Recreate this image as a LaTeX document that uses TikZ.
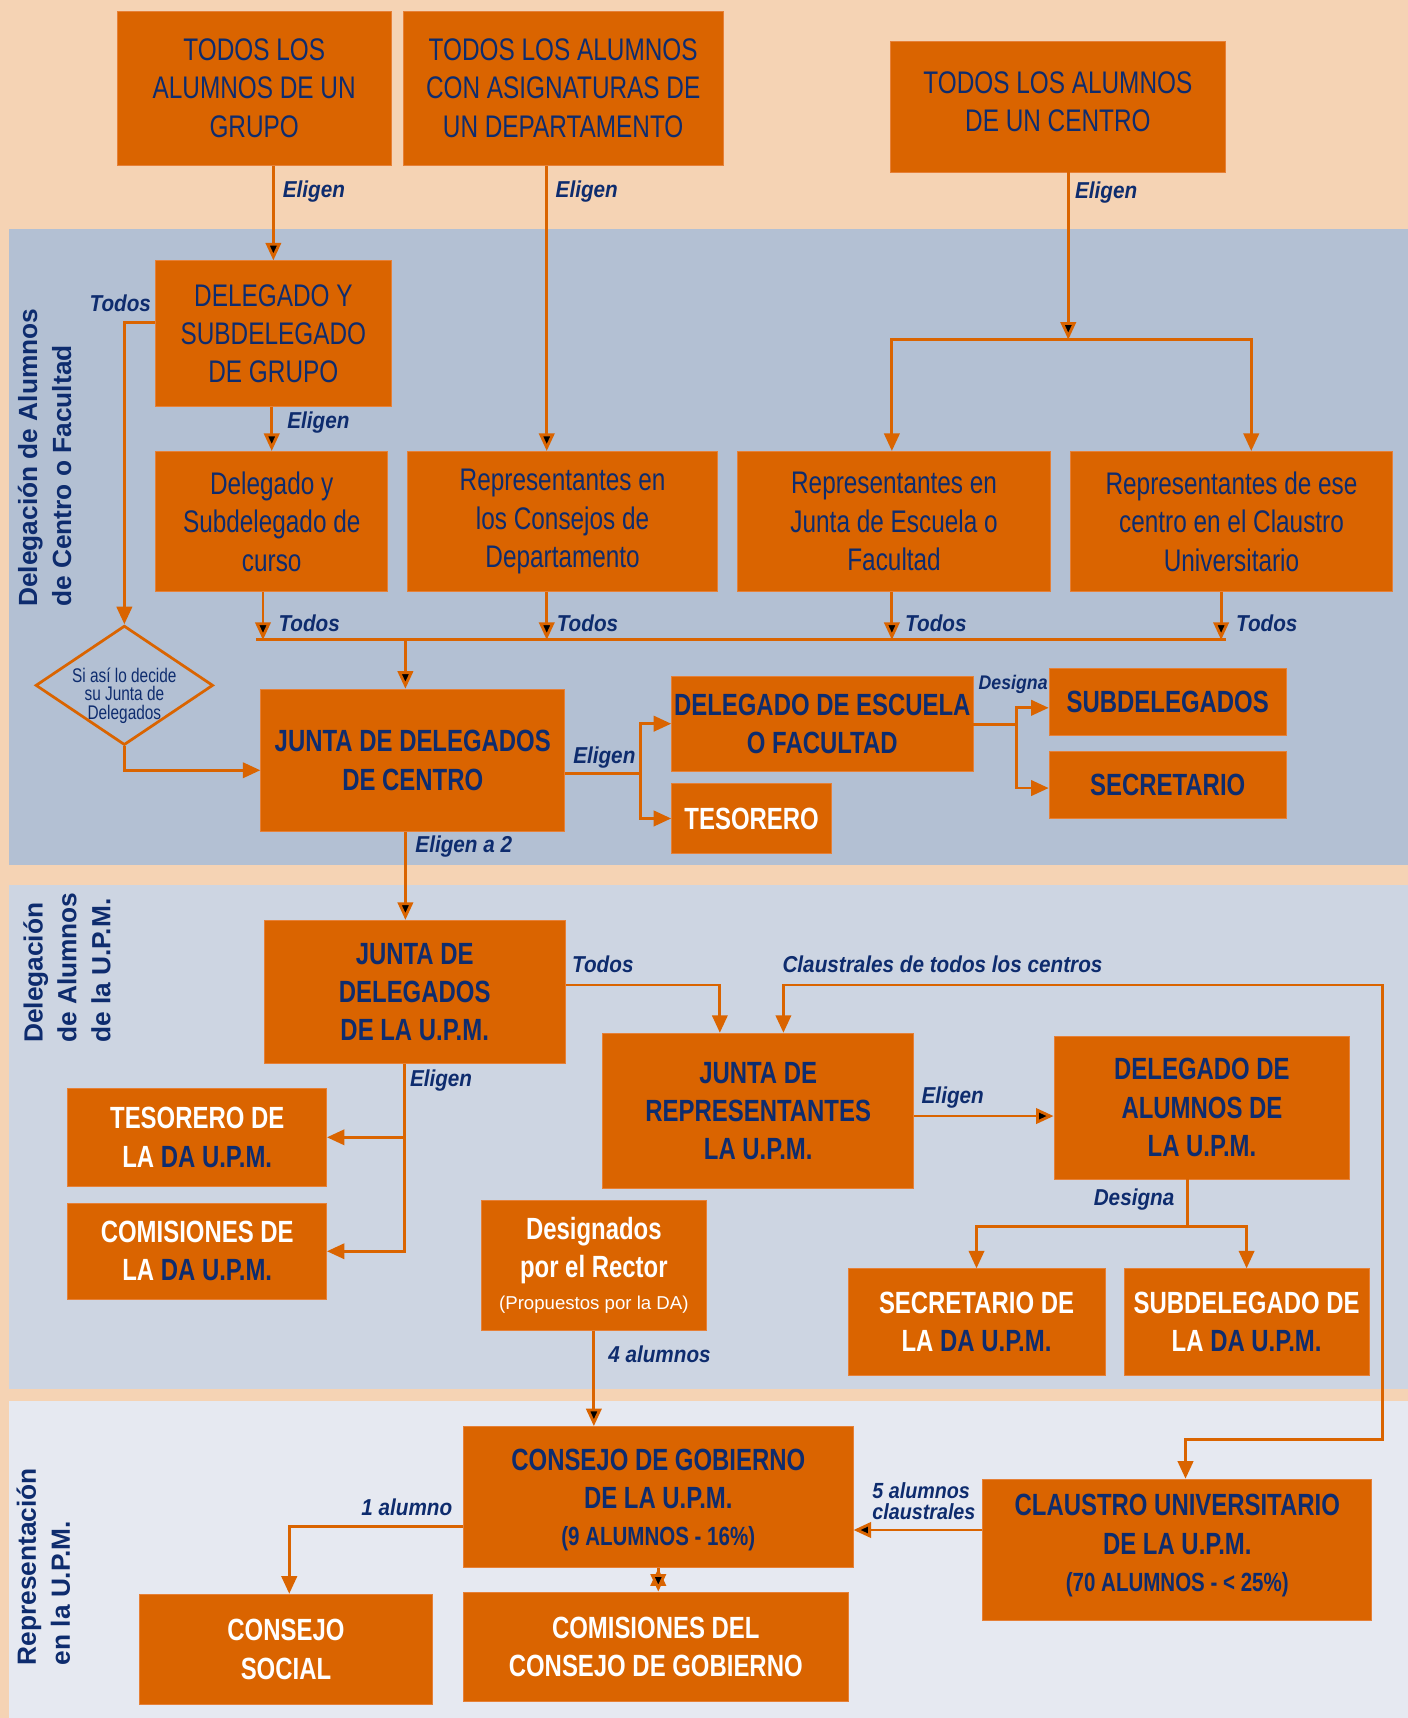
\documentclass[tikz,border=0pt]{standalone}
\usepackage{fontspec}
\setmainfont{Liberation Sans}
\newfontfamily\boxfont{Liberation Sans}[FakeStretch=0.78]
\newfontfamily\labfont{Liberation Sans}[FakeStretch=0.9]
\usepackage{tikz}
\usetikzlibrary{arrows.meta,shapes.geometric}

\definecolor{fondo}{RGB}{245,211,180}
\definecolor{banda1}{RGB}{179,192,211}
\definecolor{banda2}{RGB}{205,213,226}
\definecolor{banda3}{RGB}{230,233,241}
\definecolor{naranja}{RGB}{218,100,0}
\definecolor{naranjaclaro}{RGB}{230,128,55}
\definecolor{azul}{RGB}{14,44,110}

\tikzset{
  tam/.style 2 args={minimum width=#1pt, minimum height=#2pt},
  caja/.style={rectangle, fill=naranja, draw=naranjaclaro, line width=0.8pt, align=center,
    text=azul, inner sep=0pt, font=\boxfont\fontsize{28.5}{35}\selectfont},
  cajab/.style={caja, font=\boxfont\bfseries\fontsize{28}{35}\selectfont},
  blanca/.style={cajab, text=white},
  rombo/.style={diamond, draw=naranja, line width=2.5pt, inner sep=0pt,
    minimum width=162pt, minimum height=109pt},
  rombotxt/.style={align=center, text=azul, inner sep=0pt,
    font=\boxfont\fontsize{18}{16.7}\selectfont},
  lab/.style={text=azul, inner sep=0pt, font=\labfont\bfseries\itshape\fontsize{21}{21}\selectfont},
  linea/.style={draw=naranja, line width=2.6pt},
  flecha/.style={linea, ->},
  seccion/.style={text=azul, align=left, rotate=90, inner sep=0pt, anchor=north west,
    font=\bfseries\fontsize{24}{31}\selectfont}
}

\begin{document}
\begin{tikzpicture}[x=1pt, y=-1pt, >={Triangle[length=16pt,width=14pt]}]
 \useasboundingbox (0,0) rectangle (1285,1568);
 \fill[fondo] (0,0) rectangle (1285,1568);
 \fill[banda1] (8,209) rectangle (1285,789.5);
 \fill[banda2] (8,808) rectangle (1285,1268);
 \fill[banda3] (8,1279) rectangle (1285,1568);

 \node[seccion] (sec1) at (16,554) {Delegación de Alumnos\\de Centro o Facultad};
 \node[seccion] (sec2) at (21,952) {Delegación\\de Alumnos\\de la U.P.M.};
 \node[seccion] (sec3) at (15,1520) {Representación\\en la U.P.M.};

 % delegacion de centro
 \node[caja, tam={250}{141}] (todgr) at (232,80.5) {TODOS LOS\\ALUMNOS DE UN\\GRUPO};
 \node[caja, tam={292}{141}] (toddep) at (514,80.5) {TODOS LOS ALUMNOS\\CON ASIGNATURAS DE\\UN DEPARTAMENTO};
 \node[caja, tam={305}{119}, text depth=10pt] (todcen) at (965.5,97.5) {TODOS LOS ALUMNOS\\DE UN CENTRO};
 \node[caja, tam={215}{133}] (delgr) at (249.5,304.5) {DELEGADO Y\\SUBDELEGADO\\DE GRUPO};
 \node[caja, tam={212}{128}] (delcur) at (248,476) {Delegado y\\Subdelegado de\\curso};
 \node[caja, tam={283}{128}] (repdep) at (513.5,476) {Representantes en\\los Consejos de\\Departamento};
 \node[caja, tam={286}{128}] (repesc) at (816,476) {Representantes en\\Junta de Escuela o\\Facultad};
 \node[caja, tam={294}{128}] (repcla) at (1124,476) {Representantes de ese\\centro en el Claustro\\Universitario};
 \node[rombo] (decide) at (113.5,625.5) {};
 \node[rombotxt] (decidetxt) at (113.5,635) {Si así lo decide\\su Junta de\\Delegados};
 \node[cajab, tam={277.5}{130}] (jcen) at (376.75,694) {JUNTA DE DELEGADOS\\DE CENTRO};
 \node[cajab, tam={275}{87}] (desc) at (750.5,660.5) {DELEGADO DE ESCUELA\\O FACULTAD};
 \node[blanca, tam={146}{64}] (tesor) at (686,747) {TESORERO};
 \node[cajab, tam={216.5}{61}] (subdel) at (1065.75,640.5) {SUBDELEGADOS};
 \node[cajab, tam={216.5}{61.5}] (secret) at (1065.75,716.25) {SECRETARIO};

 % delegacion de la upm
 \node[cajab, tam={275}{131}] (jupm) at (378.5,905.5) {JUNTA DE\\DELEGADOS\\DE LA U.P.M.};
 \node[cajab, tam={284}{142}] (jrep) at (692,1014) {JUNTA DE\\REPRESENTANTES\\LA U.P.M.};
 \node[cajab, tam={270}{130.5}] (dupm) at (1097,1010.75) {DELEGADO DE\\ALUMNOS DE\\LA U.P.M.};
 \node[blanca, tam={236}{90}] (tesda) at (180,1038) {TESORERO DE\\LA \textcolor{azul}{DA U.P.M.}};
 \node[blanca, tam={236}{88}] (comda) at (180,1142) {COMISIONES DE\\LA \textcolor{azul}{DA U.P.M.}};
 \node[blanca, tam={206}{118}] (rector) at (542,1155) {Designados\\por el Rector\\[-6pt]{\mdseries\rmfamily\fontsize{17}{20}\selectfont (Propuestos por la DA)}};
 \node[blanca, tam={234.5}{97}] (secda) at (891.25,1206.5) {SECRETARIO DE\\LA \textcolor{azul}{DA U.P.M.}};
 \node[blanca, tam={223.5}{97}] (subda) at (1137.75,1206.5) {SUBDELEGADO DE\\LA \textcolor{azul}{DA U.P.M.}};

 % representacion en la upm
 \node[cajab, tam={355.6}{129}, text depth=-9pt] (cgob) at (600.8,1366.5) {CONSEJO DE GOBIERNO\\DE LA U.P.M.\\[-1pt]{\fontsize{24}{30}\selectfont (9 ALUMNOS - 16\%)}};
 \node[cajab, tam={355}{128.5}, text depth=12pt] (claus) at (1074.5,1414.25) {CLAUSTRO UNIVERSITARIO\\DE LA U.P.M.\\[-1pt]{\fontsize{24}{30}\selectfont (70 ALUMNOS - < 25\%)}};
 \node[blanca, tam={268}{101}] (csoc) at (261,1505.5) {CONSEJO\\SOCIAL};
 \node[blanca, tam={351}{100}] (comcg) at (598.5,1503) {COMISIONES DEL\\CONSEJO DE GOBIERNO};

 \coordinate (rc) at (975,310);
 \coordinate (bi) at (234,584);
 \coordinate (bd) at (1119,584);
 \coordinate (bj) at (370,584);
 \coordinate (re) at (584.5,705.7);
 \coordinate (rd) at (928,661);
 \coordinate (ca) at (1262,899);
 \coordinate (cb) at (1262,1314);
 \coordinate (rs) at (1084,1119.5);

 \path[flecha]
  (delgr.north |- todgr.south) edge (delgr.north)
  ([xshift=-15pt]toddep.south) edge ([xshift=-14.5pt]repdep.north)
  ([xshift=9.5pt]todcen.south) edge (rc)
  (delcur.north |- delgr.south) edge (delcur.north)
  ([xshift=-8pt]delcur.south) edge ([xshift=-8pt]delcur.south |- bi)
  ([xshift=-14.5pt]repdep.south) edge ([xshift=-14.5pt]repdep.south |- bi)
  ([xshift=-2pt]repesc.south) edge ([xshift=-2pt]repesc.south |- bi)
  ([xshift=-9.5pt]repcla.south) edge ([xshift=-9.5pt]repcla.south |- bi)
  (bj) edge (bj |- jcen.north)
  ([xshift=-6.75pt]jcen.south) edge ([xshift=-8.5pt]jupm.north)
  ([yshift=-4.6pt]jrep.east) edge ([yshift=-4.6pt]jrep.east -| dupm.west)
  (rector.south) edge (rector.south |- cgob.north)
  ([yshift=17.85pt]claus.west) edge ([yshift=17.85pt]claus.west -| cgob.east)
  (cgob.south) edge (cgob.south |- comcg.north);

 \draw[flecha] (rc) -| ([xshift=-2pt]repesc.north);
 \draw[flecha] (rc) -| ([xshift=18pt]repcla.north);
 \draw[flecha] ([yshift=10.5pt]delgr.west) -| (decide.north);
 \draw[linea] (bi) -- (bd);
 \draw[flecha] (decide.south) |- ([yshift=-9pt]jcen.west);
 \draw[linea] (jcen.east |- re) -- (re);
 \draw[flecha] (re) |- (desc.west);
 \draw[flecha] (re) |- (tesor.west);
 \draw[linea] (desc.east |- rd) -- (rd);
 \draw[flecha] (rd) |- ([yshift=-5.5pt]subdel.west);
 \draw[flecha] (rd) |- ([yshift=-3pt]secret.west);
 \draw[flecha] ([yshift=6.5pt]jupm.east) -| ([xshift=-35pt]jrep.north);
 \draw[flecha, <->] ([xshift=23pt]jrep.north) |- (ca) -- (cb) -| ([xshift=7.5pt]claus.north);
 \draw[flecha] ([xshift=-9.5pt]jupm.south) |- (tesda.east);
 \draw[flecha] ([xshift=-9.5pt]jupm.south) |- (comda.east);
 \draw[linea] ([xshift=-13pt]dupm.south) -- (rs);
 \draw[flecha] (rs) -| (secda.north);
 \draw[flecha] (rs) -| (subda.north);
 \draw[flecha] ([yshift=-27pt]cgob.west) -| ([xshift=3pt]csoc.north);

 \node[lab, anchor=west] (el1) at (258,175) {Eligen};
 \node[lab, anchor=west] (el2) at (507,175) {Eligen};
 \node[lab, anchor=west] (el3) at (981,176) {Eligen};
 \node[lab, anchor=east] (to1) at (138,277) {Todos};
 \node[lab, anchor=west] (el4) at (262,386) {Eligen};
 \node[lab, anchor=west] (to2) at (254,569) {Todos};
 \node[lab, anchor=west] (to3) at (508,569) {Todos};
 \node[lab, anchor=west] (to4) at (826,569) {Todos};
 \node[lab, anchor=west] (to5) at (1128,569) {Todos};
 \node[lab, anchor=west] (el5) at (523,691) {Eligen};
 \node[lab, anchor=west, font=\labfont\bfseries\itshape\fontsize{18}{18}\selectfont] (de1) at (893,625) {Designa};
 \node[lab, anchor=west] (el6) at (379,773) {Eligen a 2};
 \node[lab, anchor=west] (to6) at (522,880) {Todos};
 \node[lab, anchor=west] (cla) at (714,880) {Claustrales de todos los centros};
 \node[lab, anchor=west] (el7) at (374,986) {Eligen};
 \node[lab, anchor=west] (el8) at (841,1002) {Eligen};
 \node[lab, anchor=east] (de2) at (1072,1095) {Designa};
 \node[lab, anchor=west] (cua) at (555,1236) {4 alumnos};
 \node[lab, anchor=east] (uno) at (413,1376) {1 alumno};
 \node[lab, anchor=west, align=left, font=\labfont\bfseries\itshape\fontsize{20}{19}\selectfont] (cin) at (796,1370) {5 alumnos\\claustrales};
\end{tikzpicture}
\end{document}
